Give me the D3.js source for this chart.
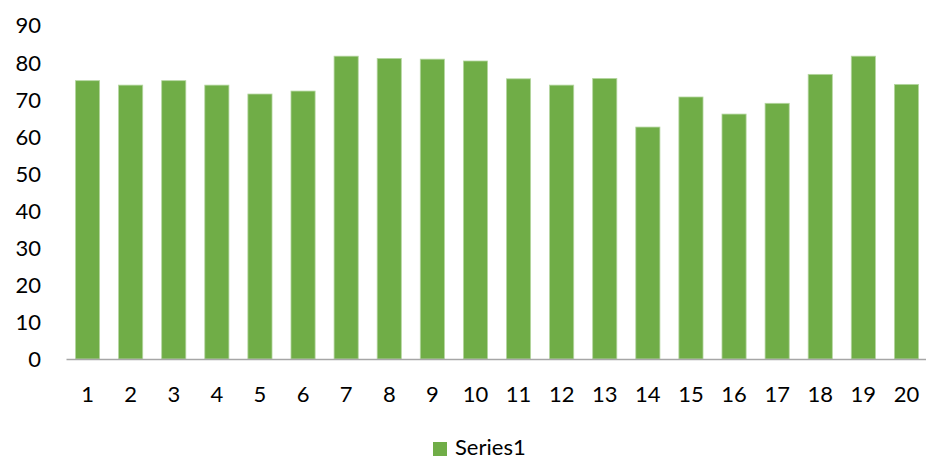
<!DOCTYPE html>
<html>
<head>
<meta charset="utf-8">
<script src="https://cdn.jsdelivr.net/npm/d3@7"></script>
<style>
  body { margin: 0; background: #fff; }
  svg text { font-family: Lato, "Open Sans", sans-serif; fill: #000; }
</style>
</head>
<body>
<svg id="chart"></svg>
<script>
const categories = ["1", "2", "3", "4", "5", "6", "7", "8", "9", "10",
    "11", "12", "13", "14", "15", "16", "17", "18", "19", "20"];
const series1 = [75.0, 73.8, 75.0, 73.8, 71.4, 72.2, 81.6, 81.0, 80.8, 80.3,
    75.5, 73.8, 75.6, 62.5, 70.6, 66.0, 68.9, 76.7, 81.6, 74.0];
const yTicks = [0, 10, 20, 30, 40, 50, 60, 70, 80, 90];
const seriesName = "Series1";

const width = 926;
const height = 459;

const svg = d3.select('#chart')
    .attr('width', width)
    .attr('height', height);

const x = d3.scaleBand()
    .domain(categories)
    .range([66, 928])
    .paddingInner(0.44)
    .paddingOuter(0.22);

const y = d3.scaleLinear()
    .domain([0, 90])
    .range([359, 25]);

//bars
svg.append('g')
    .selectAll('rect')
    .data(series1)
    .enter()
    .append('rect')
    .attr('x', (d, i) => x(categories[i]))
    .attr('y', d => y(d))
    .attr('width', x.bandwidth())
    .attr('height', d => y(0) - y(d))
    .attr('fill', '#70ad47')
    .attr('stroke', '#b5d6a0')
    .attr('stroke-width', 0.8);

//y axis, labels only
const yAxis = d3.axisLeft(y).tickValues(yTicks).tickSize(0).tickPadding(0);
const yAxisG = svg.append('g')
    .attr('transform', 'translate(41, 0)')
    .call(yAxis);
yAxisG.select('.domain').remove();
yAxisG.selectAll('text')
    .attr('font-size', 22)
    .attr('dy', '0.36em');

//x axis
const xAxis = d3.axisBottom(x).tickSize(0).tickPadding(0);
const xAxisG = svg.append('g')
    .attr('transform', `translate(0, ${y(0)})`)
    .call(xAxis);
xAxisG.select('.domain')
    .attr('stroke', '#a6a6a6')
    .attr('stroke-width', 1.3);
xAxisG.selectAll('text')
    .attr('font-size', 22)
    .attr('y', 43)
    .attr('dy', 0);

//legend
const legend = svg.append('g')
    .attr('transform', 'translate(433, 442)');
legend.append('rect')
    .attr('width', 14)
    .attr('height', 14)
    .attr('fill', '#70ad47');
legend.append('text')
    .attr('x', 22)
    .attr('y', 13)
    .attr('font-size', 22)
    .text(seriesName);
</script>
</body>
</html>
